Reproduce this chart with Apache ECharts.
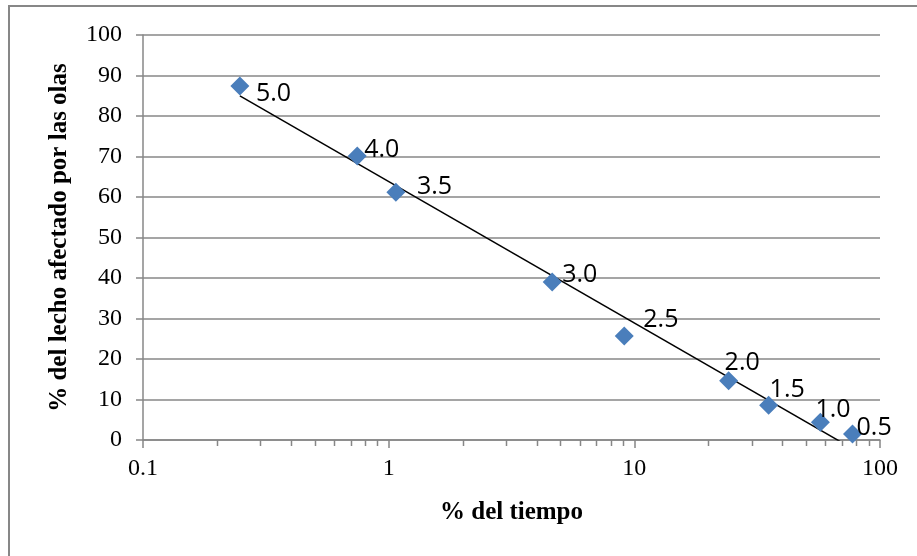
<!DOCTYPE html>
<html>
<head>
<meta charset="utf-8">
<title>% del lecho afectado por las olas</title>
<script src="https://cdn.jsdelivr.net/npm/echarts@6/dist/echarts.min.js"></script>
<style>
  html, body { margin: 0; padding: 0; background: #fff; }
  #chart { width: 917px; height: 556px; }
</style>
</head>
<body>
<div id="chart"></div>
<script>
// Altura de ola (etiqueta de cada punto)
const waveHeights = ['5.0', '4.0', '3.5', '3.0', '2.5', '2.0', '1.5', '1.0', '0.5'];
// % del tiempo (eje X, logarítmico)
const timePercent = [0.248, 0.745, 1.07, 4.63, 9.1, 24.2, 35.2, 57.2, 77.3];
// % del lecho afectado por las olas (eje Y)
const bedPercent = [87.4, 70.1, 61.2, 39.0, 25.7, 14.6, 8.6, 4.4, 1.5];
// Etiquetas del eje X
const xTickLabels = ['0.1', '1', '10', '100'];

// Marcas menores del eje logarítmico: 2..9 en cada década
const minorTicks = [];
[0.1, 1, 10].forEach(function (d) {
  for (let k = 2; k <= 9; k++) minorTicks.push(+(d * k).toPrecision(3));
});

// Línea de tendencia logarítmica: y = a + b·log10(x), por mínimos cuadrados
const logs = timePercent.map(function (v) { return Math.log10(v); });
const n = logs.length;
const mL = logs.reduce(function (s, v) { return s + v; }, 0) / n;
const mY = bedPercent.reduce(function (s, v) { return s + v; }, 0) / n;
let sxy = 0, sxx = 0;
for (let i = 0; i < n; i++) {
  sxy += (logs[i] - mL) * (bedPercent[i] - mY);
  sxx += (logs[i] - mL) * (logs[i] - mL);
}
const slope = sxy / sxx;
const intercept = mY - slope * mL;
const xMin = Math.min.apply(null, timePercent);
const xMax = Math.max.apply(null, timePercent);
const trend = [
  [xMin, intercept + slope * Math.log10(xMin)],
  [xMax, intercept + slope * Math.log10(xMax)]
];

// Desplazamiento de cada etiqueta respecto al centro del marcador
const labelShift = [[16, 8], [7, -6], [21, -5], [10, -7], [19, -16], [-4, -18], [1, -15], [-5, -12], [4, -6]];

const GRAY = '#878787';
const serif = '"Liberation Serif", "Times New Roman", serif';

const points = timePercent.map(function (x, i) {
  return {
    value: [x, bedPercent[i]],
    name: waveHeights[i],
    label: { offset: labelShift[i] }
  };
});

const chart = echarts.init(document.getElementById('chart'), null, { renderer: 'canvas' });
chart.setOption({
  animation: false,
  backgroundColor: '#fff',
  graphic: [{
    type: 'rect',
    shape: { x: 9, y: 6, width: 930, height: 580 },
    style: { fill: 'none', stroke: GRAY, lineWidth: 2 },
    silent: true,
    z: -10
  }],
  grid: { left: 143, right: 37, top: 35, bottom: 116, containLabel: false },
  xAxis: {
    type: 'log',
    logBase: 10,
    min: 0.1,
    max: 100,
    name: '% del tiempo',
    nameLocation: 'middle',
    nameGap: 60,
    nameTextStyle: { fontFamily: serif, fontWeight: 'bold', fontSize: 25, color: '#000' },
    axisLine: { show: true, onZero: false, lineStyle: { color: GRAY, width: 1.5 } },
    axisTick: { show: true, length: 8, lineStyle: { color: GRAY, width: 1.5 } },
    minorTick: { show: false },
    splitLine: { show: false },
    axisLabel: {
      margin: 17,
      fontFamily: serif,
      fontSize: 24,
      color: '#000',
      formatter: function (v) {
        const lg = Math.round(Math.log10(v));
        return xTickLabels[lg + 1];
      }
    }
  },
  yAxis: {
    type: 'value',
    min: 0,
    max: 100,
    interval: 10,
    name: '% del lecho afectado por las olas',
    nameLocation: 'middle',
    nameGap: 71,
    nameTextStyle: { fontFamily: serif, fontWeight: 'bold', fontSize: 25, color: '#000' },
    axisLine: { show: true, lineStyle: { color: GRAY, width: 1.5 } },
    axisTick: { show: true, length: 7, lineStyle: { color: GRAY, width: 1.5 } },
    splitLine: { show: true, lineStyle: { color: GRAY, width: 1.5 } },
    axisLabel: { margin: 21, fontFamily: serif, fontSize: 24, color: '#000' }
  },
  series: [
    {
      type: 'custom',
      silent: true,
      clip: false,
      data: minorTicks.map(function (v) { return [v, 0]; }),
      renderItem: function (params, api) {
        const p = api.coord([api.value(0), 0]);
        return {
          type: 'line',
          shape: { x1: Math.round(p[0]) + 0.5, y1: p[1], x2: Math.round(p[0]) + 0.5, y2: p[1] + 6 },
          style: { stroke: GRAY, lineWidth: 1.5 }
        };
      },
      z: 1
    },
    {
      type: 'line',
      data: trend,
      clip: true,
      symbol: 'none',
      silent: true,
      lineStyle: { color: '#000', width: 1.5 },
      z: 2
    },
    {
      type: 'scatter',
      data: points,
      symbol: 'diamond',
      symbolSize: 19,
      itemStyle: { color: '#4a7ebb', opacity: 1 },
      z: 3,
      label: {
        show: true,
        position: 'inside',
        align: 'left',
        verticalAlign: 'middle',
        formatter: '{b}',
        fontFamily: '"Open Sans", "Liberation Sans", sans-serif',
        fontSize: 25,
        color: '#000'
      }
    }
  ]
});
</script>
</body>
</html>
